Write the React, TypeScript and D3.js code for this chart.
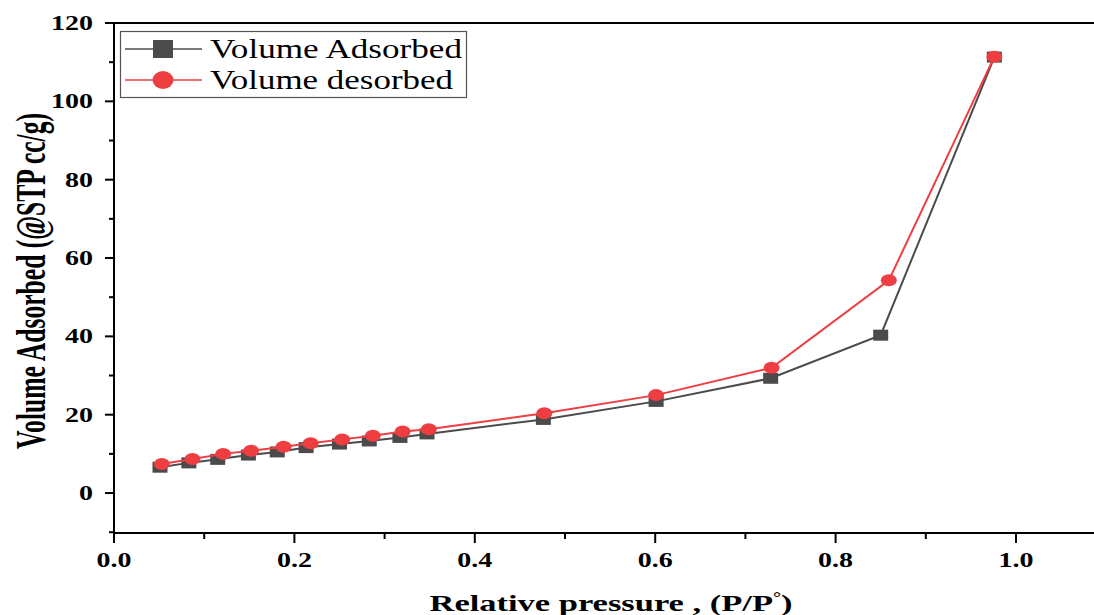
import React from "react";
import * as d3 from "d3";

const adsX = [0.051, 0.083, 0.115, 0.149, 0.181, 0.213, 0.250, 0.283, 0.317, 0.347, 0.476, 0.601, 0.728, 0.850, 0.976];
const adsY = [6.6, 7.7, 8.6, 9.7, 10.5, 11.6, 12.5, 13.3, 14.2, 15.1, 18.8, 23.4, 29.3, 40.3, 111.3];
const desX = [0.053, 0.087, 0.121, 0.152, 0.188, 0.218, 0.253, 0.287, 0.320, 0.349, 0.477, 0.601, 0.729, 0.859, 0.976];
const desY = [7.4, 8.7, 10.0, 10.8, 11.8, 12.7, 13.7, 14.6, 15.7, 16.3, 20.4, 25.0, 32.0, 54.3, 111.4];

const xMajor = [0, 0.2, 0.4, 0.6, 0.8, 1.0];
const xMinor = [0.1, 0.3, 0.5, 0.7, 0.9];
const yMajor = [0, 20, 40, 60, 80, 100, 120];
const yMinor = [-10, 10, 30, 50, 70, 90, 110];
const seriesNames = ["Volume Adsorbed", "Volume desorbed"];

const W = 1094, H = 615;
const GRAY = "#4b4b4b";
const RED = "#ef3e42";
const FONT = "'Liberation Serif', 'Times New Roman', serif";
const SX = 1.4; // horizontal stretch of the original image

export default function App() {
  const x = d3.scaleLinear().domain([0, 1]).range([114, 1016]);
  const y = d3.scaleLinear().domain([-10.2, 120]).range([533, 23]);
  const ads = adsX.map((v, i) => [v, adsY[i]] as [number, number]);
  const des = desX.map((v, i) => [v, desY[i]] as [number, number]);
  const line = d3.line<[number, number]>().x(d => x(d[0])).y(d => y(d[1]));
  const left = x(0), bottom = y(-10.2), top = y(120);

  return (
    <svg width={W} height={H} style={{ position: "absolute", left: 0, top: 0, background: "#fff" }}>
      <defs>
        <clipPath id="plot"><rect x={0} y={0} width={W} height={H} /></clipPath>
      </defs>
      {/* axes frame */}
      <line x1={left} x2={W} y1={top} y2={top} stroke="#000" strokeWidth={2} />
      <line x1={left} x2={W} y1={bottom} y2={bottom} stroke="#000" strokeWidth={2} />
      <line x1={left} x2={left} y1={top - 1} y2={bottom + 1} stroke="#000" strokeWidth={2} />
      {/* y ticks */}
      {yMajor.map(t => (
        <g key={"ym" + t}>
          <line x1={left - 9} x2={left} y1={y(t)} y2={y(t)} stroke="#000" strokeWidth={2} />
          <text transform={`translate(${left - 21},${y(t) + 7}) scale(${SX},1)`} textAnchor="end"
            fontFamily={FONT} fontWeight="bold" fontSize={20}>{t}</text>
        </g>
      ))}
      {yMinor.map(t => (
        <line key={"yn" + t} x1={left - 5} x2={left} y1={y(t)} y2={y(t)} stroke="#000" strokeWidth={2} />
      ))}
      {/* x ticks */}
      {xMajor.map(t => (
        <g key={"xm" + t}>
          <line x1={x(t)} x2={x(t)} y1={bottom} y2={bottom + 10} stroke="#000" strokeWidth={2} />
          <text transform={`translate(${x(t)},${bottom + 34}) scale(${SX},1)`} textAnchor="middle"
            fontFamily={FONT} fontWeight="bold" fontSize={20}>{t.toFixed(1)}</text>
        </g>
      ))}
      {xMinor.map(t => (
        <line key={"xn" + t} x1={x(t)} x2={x(t)} y1={bottom} y2={bottom + 6} stroke="#000" strokeWidth={2} />
      ))}
      {/* axis titles */}
      <text x={611} y={611} textAnchor="middle" fontFamily={FONT} fontWeight="bold" fontSize={24}
        textLength={363} lengthAdjust="spacingAndGlyphs">Relative pressure , (P/P<tspan dy={-9} fontSize={14}>°</tspan><tspan dy={9}>)</tspan></text>
      <text transform={`translate(45,281) scale(${SX},1) rotate(-90)`} textAnchor="middle" fontFamily={FONT}
        fontWeight="bold" fontSize={30} textLength={336} lengthAdjust="spacingAndGlyphs">Volume Adsorbed (@STP cc/g)</text>
      {/* series */}
      <g clipPath="url(#plot)">
        <path d={line(ads) || ""} fill="none" stroke={GRAY} strokeWidth={2} />
        {ads.map((d, i) => (
          <rect key={"a" + i} x={x(d[0]) - 7.5} y={y(d[1]) - 5.5} width={15} height={11} fill={GRAY} />
        ))}
        <path d={line(des) || ""} fill="none" stroke={RED} strokeWidth={2} />
        {des.map((d, i) => (
          <ellipse key={"d" + i} cx={x(d[0])} cy={y(d[1])} rx={8} ry={6} fill={RED} />
        ))}
      </g>
      {/* legend */}
      <rect x={120.5} y={31.5} width={346} height={66} fill="#fff" stroke="#555" strokeWidth={1.2} />
      <line x1={125} x2={202} y1={49} y2={49} stroke={GRAY} strokeWidth={1.5} />
      <rect x={153} y={40} width={20} height={18} fill={GRAY} />
      <text x={210} y={58} fontFamily={FONT} fontSize={27} textLength={252} lengthAdjust="spacingAndGlyphs">{seriesNames[0]}</text>
      <line x1={125} x2={202} y1={80} y2={80} stroke={RED} strokeWidth={1.5} />
      <ellipse cx={163} cy={80} rx={10.5} ry={9} fill={RED} />
      <text x={210} y={89} fontFamily={FONT} fontSize={27} textLength={243} lengthAdjust="spacingAndGlyphs">{seriesNames[1]}</text>
    </svg>
  );
}
